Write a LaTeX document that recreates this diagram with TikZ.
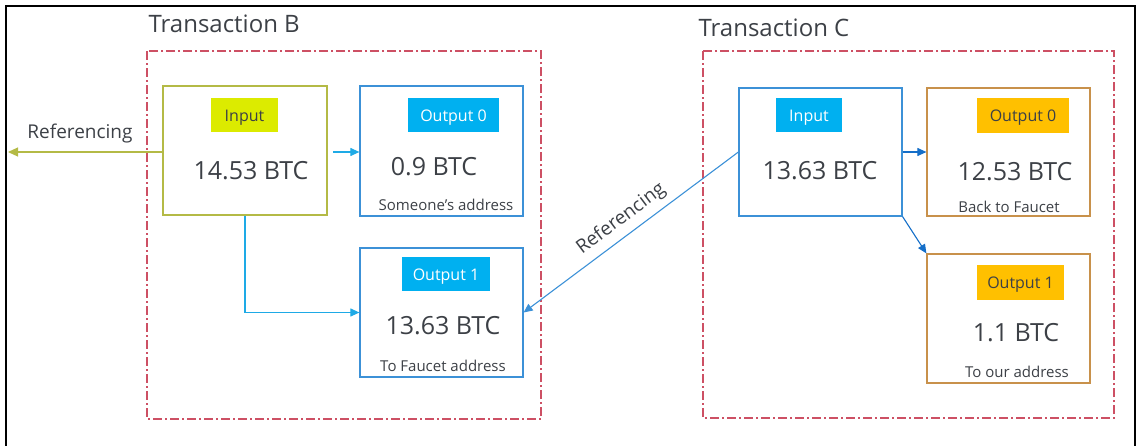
\documentclass[tikz,border=0pt]{standalone}
\usepackage{fontspec}
\setmainfont{Open Sans}
\usetikzlibrary{arrows.meta}
\definecolor{txt}{RGB}{60,64,70}
\definecolor{dashc}{RGB}{205,80,100}
\definecolor{olive}{RGB}{180,186,70}
\definecolor{lime}{RGB}{220,235,0}
\definecolor{bbord}{RGB}{60,145,215}
\definecolor{cyanf}{RGB}{0,176,240}
\definecolor{obord}{RGB}{200,145,75}
\definecolor{gold}{RGB}{255,192,0}
\definecolor{arrcyan}{RGB}{30,170,230}
\definecolor{arrblue}{RGB}{60,145,215}
\definecolor{arrdark}{RGB}{20,110,200}
\begin{document}
\begin{tikzpicture}[x=1pt,y=-1pt,
  box/.style={draw,line width=1.2pt,minimum width=#1,inner sep=0pt},
  tag/.style={inner sep=0pt,text height=12pt,text depth=0pt,font=\fontsize{16}{18}\selectfont},
  val/.style={text=txt,font=\fontsize{25}{29}\selectfont},
  small/.style={text=txt,font=\fontsize{15}{18}\selectfont},
  title/.style={text=txt,font=\fontsize{24}{28}\selectfont,anchor=west},
  trans/.style={draw=dashc,line width=1.3pt,dash pattern=on 9pt off 3pt on 2pt off 3pt},
  arr/.style={line width=1.1pt,-{Triangle[length=9pt,width=8pt]}},
  reflab/.style={text=txt,font=\fontsize{19}{22}\selectfont}]
\useasboundingbox (0,0) rectangle (1141,445);
% outer frame
\draw[line width=2pt,black] (6,446) -- (6,6) -- (1135,6) -- (1135,446);
% transaction frames
\draw[trans] (147,51) rectangle (541,419);
\draw[trans] (703,51) rectangle (1114,418);
\node[title] (tB) at (145,24) {Transaction B};
\node[title] (tC) at (695,28) {Transaction C};
% Transaction B boxes
\node[box=164pt,draw=olive,minimum height=129pt] (bin) at (245,150.5) {};
\node[box=163pt,draw=bbord,minimum height=130pt] (bo0) at (441.5,151) {};
\node[box=163pt,draw=bbord,minimum height=129pt] (bo1) at (441.5,312.5) {};
\node[tag,fill=lime,text=txt,minimum width=67pt,minimum height=34pt] (binT) at (244.5,115) {Input};
\node[tag,fill=cyanf,text=white,minimum width=91pt,minimum height=34pt] (bo0T) at (453.5,115) {Output 0};
\node[tag,fill=cyanf,text=white,minimum width=88pt,minimum height=34pt] (bo1T) at (446,274) {Output 1};
\node[val] (binV) at (251,171) {14.53 BTC};
\node[val] (bo0V) at (434,167) {0.9 BTC};
\node[val] (bo1V) at (443,326) {13.63 BTC};
\node[small] (bo0S) at (446,205) {Someone’s address};
\node[small] (bo1S) at (443,366) {To Faucet address};
% Transaction C boxes
\node[box=163pt,draw=bbord,minimum height=128pt] (cin) at (820.5,152) {};
\node[box=163pt,draw=obord,minimum height=128pt] (co0) at (1008.5,152) {};
\node[box=163pt,draw=obord,minimum height=129pt] (co1) at (1008.5,318.5) {};
\node[tag,fill=cyanf,text=white,minimum width=66pt,minimum height=34pt] (cinT) at (809,115) {Input};
\node[tag,fill=gold,text=txt,minimum width=92pt,minimum height=35pt] (co0T) at (1023,115.5) {Output 0};
\node[tag,fill=gold,text=txt,minimum width=87pt,minimum height=35pt] (co1T) at (1020.5,282.5) {Output 1};
\node[val] (cinV) at (820,171) {13.63 BTC};
\node[val] (co0V) at (1015,172) {12.53 BTC};
\node[val] (co1V) at (1016,333) {1.1 BTC};
\node[small] (co0S) at (1009,207) {Back to Faucet};
\node[small] (co1S) at (1017,372) {To our address};
% connectors
\coordinate (refL) at (8,152);
\coordinate (binE) at (333,152);
\draw[arr,draw=olive,-{Triangle[length=10pt,width=9pt]}] (bin.west |- refL) -- (refL);
\node[reflab] (refLab) at (80,134) {Referencing};
\draw[arr,draw=arrcyan] (binE) -- (bo0.west |- binE);
\draw[arr,draw=arrcyan] (bin.south) |- (bo1.west);
\draw[arr,draw=arrblue] (cin.west) -- node[reflab,sloped,above=3pt,pos=0.5] (refD) {Referencing} (bo1.east);
\draw[arr,draw=arrdark] (cin.east) -- (co0.west);
\draw[arr,draw=arrdark] (cin.south east) -- (co1.north west);
\end{tikzpicture}
\end{document}
